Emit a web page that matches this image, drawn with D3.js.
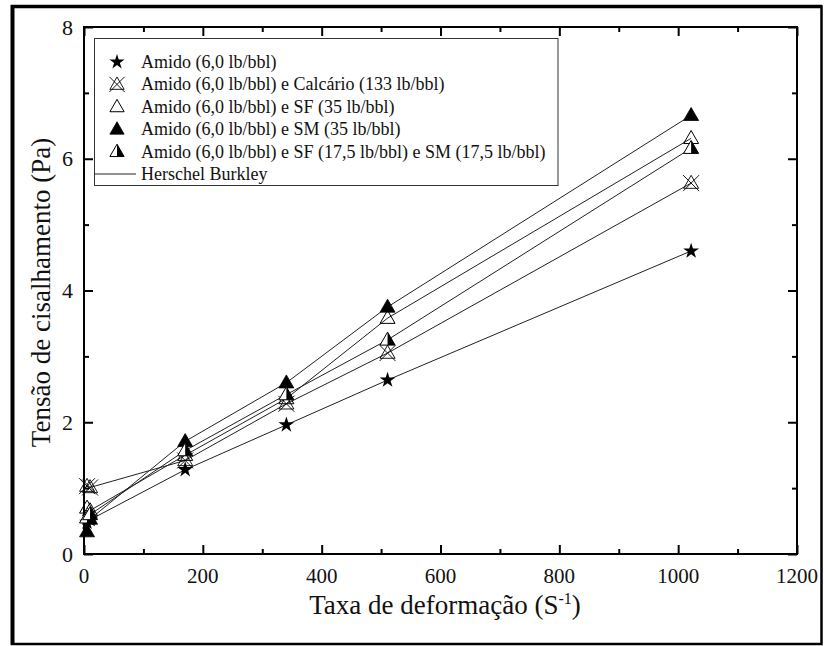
<!DOCTYPE html>
<html>
<head>
<meta charset="utf-8">
<script src="https://cdn.jsdelivr.net/npm/d3@7/dist/d3.min.js"></script>
<style>
  html, body { margin: 0; padding: 0; background: #fff; }
</style>
</head>
<body>
<svg id="chart" width="824" height="646" font-family="'Liberation Serif', 'Times New Roman', Times, serif"></svg>
<script>
// Shear rates of the rotational viscometer readings (1/s)
const shearRates = [5.11, 10.22, 170.3, 340.6, 510.9, 1021.8];

// Shear stress (Pa) for each fluid formulation
const amido        = [0.48, 0.52, 1.28, 1.96, 2.64, 4.60];
const amidoCalc    = [1.03, 1.01, 1.42, 2.28, 3.05, 5.63];
const amidoSF      = [0.70, 0.66, 1.50, 2.36, 3.58, 6.31];
const amidoSM      = [0.34, 0.53, 1.71, 2.60, 3.75, 6.66];
const amidoSFSM    = [0.55, 0.60, 1.57, 2.42, 3.25, 6.16];

const seriesNames = [
  "Amido (6,0 lb/bbl)",
  "Amido (6,0 lb/bbl) e Calcário (133 lb/bbl)",
  "Amido (6,0 lb/bbl) e SF (35 lb/bbl)",
  "Amido (6,0 lb/bbl) e SM (35 lb/bbl)",
  "Amido (6,0 lb/bbl) e SF (17,5 lb/bbl) e SM (17,5 lb/bbl)"
];
const fitName = "Herschel Burkley";

const xTicks = [0, 200, 400, 600, 800, 1000, 1200];
const yTicks = [0, 2, 4, 6, 8];
const xLabel = "Taxa de deformação (S";
const yLabel = "Tensão de cisalhamento (Pa)";

const seriesList = [
  { name: seriesNames[0], values: amido,     marker: "star" },
  { name: seriesNames[1], values: amidoCalc, marker: "crossTri" },
  { name: seriesNames[2], values: amidoSF,   marker: "openTri" },
  { name: seriesNames[3], values: amidoSM,   marker: "fillTri" },
  { name: seriesNames[4], values: amidoSFSM, marker: "halfTri" }
];

const svg = d3.select("#chart");
const ink = "#111";

// outer frame
svg.append("rect").attr("x", 12.5).attr("y", 6.5).attr("width", 809).attr("height", 637.5)
  .attr("fill", "none").attr("stroke", "#000").attr("stroke-width", 2.5);
svg.append("line").attr("x1", 12.5).attr("x2", 12.5).attr("y1", 5).attr("y2", 645)
  .attr("stroke", "#000").attr("stroke-width", 4);
svg.append("line").attr("x1", 11).attr("x2", 822).attr("y1", 6.5).attr("y2", 6.5)
  .attr("stroke", "#000").attr("stroke-width", 3.5);

const plot = { left: 84, right: 797, top: 27, bottom: 554 };
const x = d3.scaleLinear().domain([0, 1200]).range([plot.left, plot.right]);
const y = d3.scaleLinear().domain([0, 8]).range([plot.bottom, plot.top]);

// axes: ticks inward on all four sides
const majorLen = 9, minorLen = 5;
const xMinor = d3.range(100, 1200, 200);
const yMinor = d3.range(1, 8, 2);

function tickAxis(axisFn, scale, majors, minors, transform) {
  const gMaj = svg.append("g").attr("transform", transform)
    .call(axisFn(scale).tickValues(majors).tickSize(majorLen).tickFormat(""));
  const gMin = svg.append("g").attr("transform", transform)
    .call(axisFn(scale).tickValues(minors).tickSize(minorLen).tickFormat(""));
  [gMaj, gMin].forEach(g => {
    g.select(".domain").remove();
    g.selectAll(".tick line").attr("stroke", "#000").attr("stroke-width", 2);
    g.selectAll(".tick text").remove();
  });
}
tickAxis(d3.axisTop, x, xTicks, xMinor, `translate(0,${plot.bottom})`);
tickAxis(d3.axisBottom, x, xTicks, xMinor, `translate(0,${plot.top})`);
tickAxis(d3.axisRight, y, yTicks, yMinor, `translate(${plot.left},0)`);
tickAxis(d3.axisLeft, y, yTicks, yMinor, `translate(${plot.right},0)`);

svg.append("rect")
  .attr("x", plot.left).attr("y", plot.top)
  .attr("width", plot.right - plot.left).attr("height", plot.bottom - plot.top)
  .attr("fill", "none").attr("stroke", "#000").attr("stroke-width", 2);

// tick labels
svg.append("g").selectAll("text").data(xTicks).join("text")
  .attr("x", d => x(d)).attr("y", 583)
  .attr("text-anchor", "middle").attr("font-size", 21).attr("fill", ink)
  .text(d => d);
svg.append("g").selectAll("text").data(yTicks).join("text")
  .attr("x", 73).attr("y", d => y(d) + 7.5)
  .attr("text-anchor", "end").attr("font-size", 22).attr("fill", ink)
  .text(d => d);

// axis titles
const xt = svg.append("text").attr("x", 445).attr("y", 614)
  .attr("text-anchor", "middle").attr("font-size", 27).attr("fill", ink);
xt.append("tspan").text(xLabel);
xt.append("tspan").attr("font-size", 16).attr("dy", -10).text("-1");
xt.append("tspan").attr("dy", 10).text(")");

svg.append("text")
  .attr("transform", `translate(50,${(plot.top + plot.bottom) / 2 + 2}) rotate(-90)`)
  .attr("text-anchor", "middle").attr("font-size", 27).attr("fill", ink)
  .text(yLabel);

// markers
function triPath(cx, cy, w, h) {
  return `M${cx},${cy - h * 0.6}L${cx + w / 2},${cy + h * 0.4}L${cx - w / 2},${cy + h * 0.4}Z`;
}
const starPath = d3.symbol().type(d3.symbolStar).size(78);

function drawMarker(g, type, cx, cy, s) {
  const w = 15 * s, h = 13 * s;
  if (type === "star") {
    g.append("path").attr("d", starPath()).attr("transform", `translate(${cx},${cy}) scale(${s})`)
      .attr("fill", "#000");
  } else if (type === "fillTri") {
    g.append("path").attr("d", triPath(cx, cy, w, h)).attr("fill", "#000").attr("stroke", "#000").attr("stroke-width", 0.8);
  } else if (type === "openTri") {
    g.append("path").attr("d", triPath(cx, cy, w, h)).attr("fill", "none").attr("stroke", "#000").attr("stroke-width", 1);
  } else if (type === "halfTri") {
    g.append("path").attr("d", triPath(cx, cy, w, h)).attr("fill", "#fff").attr("stroke", "#000").attr("stroke-width", 1);
    g.append("path")
      .attr("d", `M${cx},${cy - h * 0.6}L${cx + w / 2},${cy + h * 0.4}L${cx},${cy + h * 0.4}Z`)
      .attr("fill", "#000");
  } else if (type === "crossTri") {
    g.append("path").attr("d", triPath(cx, cy, w, h)).attr("fill", "none").attr("stroke", "#000").attr("stroke-width", 0.9);
    const r = 8 * s;
    g.append("path")
      .attr("d", `M${cx - r},${cy - r}L${cx + r},${cy + r}M${cx + r},${cy - r}L${cx - r},${cy + r}`)
      .attr("stroke", "#000").attr("stroke-width", 0.9);
  }
}

// Herschel-Bulkley curves through the readings
const line = d3.line().x(d => x(d[0])).y(d => y(d[1]));
const data = svg.append("g");
seriesList.forEach(s => {
  data.append("path")
    .attr("d", line(shearRates.map((r, i) => [r, s.values[i]])))
    .attr("fill", "none").attr("stroke", "#222").attr("stroke-width", 1);
});
seriesList.forEach(s => {
  const g = data.append("g");
  shearRates.forEach((r, i) => drawMarker(g, s.marker, x(r), y(s.values[i]), 1));
});

// legend
const lg = svg.append("g");
lg.append("rect").attr("x", 94.5).attr("y", 38.5).attr("width", 463.5).attr("height", 147)
  .attr("fill", "#fff").attr("stroke", "#333").attr("stroke-width", 1);
const rowY = i => 62 + i * 22.4;
seriesList.forEach((s, i) => {
  drawMarker(lg, s.marker, 117, rowY(i), 0.95);
  lg.append("text").attr("x", 141).attr("y", rowY(i) + 6)
    .attr("font-size", 18).attr("fill", ink).text(s.name);
});
lg.append("line").attr("x1", 95).attr("x2", 136).attr("y1", rowY(5)).attr("y2", rowY(5))
  .attr("stroke", "#222").attr("stroke-width", 1);
lg.append("text").attr("x", 141).attr("y", rowY(5) + 6).attr("font-size", 18).attr("fill", ink).text(fitName);
</script>
</body>
</html>
